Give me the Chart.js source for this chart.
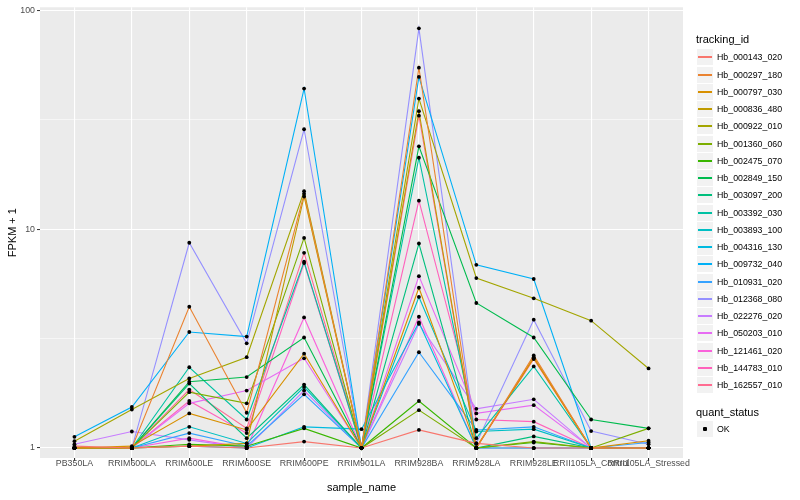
<!DOCTYPE html>
<html>
<head>
<meta charset="utf-8">
<script src="https://cdn.jsdelivr.net/npm/chart.js@4"></script>
<style>
  html, body { margin: 0; padding: 0; background: #ffffff; }
  #wrap { position: relative; width: 800px; height: 500px; font-family: "Liberation Sans", Arial, sans-serif; }
  #c { position: absolute; left: 0; top: 0; }
  .lg-title { position: absolute; left: 696px; font-size: 11px; color: #000; white-space: nowrap; line-height: 13px; }
  .lg-key { position: absolute; left: 697px; width: 16px; height: 16px; background: #f2f2f2; }
  .lg-line { position: absolute; left: 1px; width: 14px; top: 7px; height: 1.5px; }
  .lg-dot { position: absolute; left: 6px; top: 6px; width: 4px; height: 4px; background: #000; border-radius: 1px; }
  .lg-text { position: absolute; left: 717px; font-size: 8.8px; color: #000; white-space: nowrap; line-height: 10px; }
</style>
</head>
<body>
<div id="wrap">
  <canvas id="c" width="800" height="500"></canvas>
  <div id="legend"></div>
</div>
<script>
// ---------- data ----------
const categories = ["PB350LA","RRIM600LA","RRIM600LE","RRIM600SE","RRIM600PE","RRIM901LA","RRIM928BA","RRIM928LA","RRIM928LE","RRII105LA_Control","RRII105LA_Stressed"];
const trackingIds = ["Hb_000143_020","Hb_000297_180","Hb_000797_030","Hb_000836_480","Hb_000922_010","Hb_001360_060","Hb_002475_070","Hb_002849_150","Hb_003097_200","Hb_003392_030","Hb_003893_100","Hb_004316_130","Hb_009732_040","Hb_010931_020","Hb_012368_080","Hb_022276_020","Hb_050203_010","Hb_121461_020","Hb_144783_010","Hb_162557_010"];
const yTickValues = [1, 10, 100];
const yMinorValues = [3.1623, 31.623];
const statusLevels = ["OK"];

const hb_000143_020 = [1.02, 1.0, 1.02, 1.0, 1.07, 1.0, 1.21, 1.05, 1.0, 1.0, 1.0];
const hb_000297_180 = [1.0, 1.0, 4.42, 1.45, 14.5, 1.0, 54.7, 1.0, 2.65, 1.0, 1.0];
const hb_000797_030 = [1.0, 1.02, 1.44, 1.21, 2.7, 1.0, 5.4, 1.01, 2.57, 1.0, 1.08];
const hb_000836_480 = [1.0, 1.0, 1.02, 1.05, 14.1, 1.0, 34.6, 1.0, 2.6, 1.0, 1.0];
const hb_000922_010 = [1.075, 1.5, 2.08, 2.6, 14.9, 1.0, 39.5, 5.98, 4.83, 3.82, 2.31];
const hb_001360_060 = [1.0, 1.0, 1.8, 1.6, 9.12, 1.0, 1.49, 1.0, 1.07, 1.0, 1.23];
const hb_002475_070 = [1.0, 1.0, 1.04, 1.02, 1.23, 1.0, 1.64, 1.0, 1.06, 1.0, 1.0];
const hb_002849_150 = [1.0, 1.0, 2.01, 2.11, 3.2, 1.0, 23.9, 4.6, 3.2, 1.35, 1.23];
const hb_003097_200 = [1.0, 1.0, 1.97, 1.11, 1.95, 1.0, 8.6, 1.0, 1.13, 1.0, 1.0];
const hb_003392_030 = [1.0, 1.0, 2.34, 1.35, 7.1, 1.0, 21.2, 1.11, 2.36, 1.0, 1.0];
const hb_003893_100 = [1.0, 1.0, 1.25, 1.05, 1.9, 1.0, 4.9, 1.19, 1.22, 1.0, 1.0];
const hb_004316_130 = [1.0, 1.0, 1.02, 1.0, 1.25, 1.22, 3.75, 1.0, 1.0, 1.0, 1.0];
const hb_009732_040 = [1.125, 1.54, 3.39, 3.23, 43.9, 1.0, 49.6, 6.87, 5.92, 1.0, 1.0];
const hb_010931_020 = [1.0, 1.0, 1.17, 1.02, 1.76, 1.0, 2.74, 1.21, 1.25, 1.0, 1.06];
const hb_012368_080 = [1.0, 1.0, 8.67, 3.01, 28.6, 1.0, 82.7, 1.05, 3.86, 1.195, 1.04];
const hb_022276_020 = [1.04, 1.19, 1.09, 1.0, 1.83, 1.0, 3.69, 1.51, 1.67, 1.0, 1.0];
const hb_050203_010 = [1.0, 1.0, 1.6, 1.83, 2.57, 1.0, 6.1, 1.44, 1.57, 1.0, 1.0];
const hb_121461_020 = [1.0, 1.0, 1.11, 1.0, 3.95, 1.0, 3.98, 1.0, 1.0, 1.0, 1.0];
const hb_144783_010 = [1.0, 1.0, 1.64, 1.17, 7.0, 1.0, 13.5, 1.35, 1.32, 1.0, 1.0];
const hb_162557_010 = [1.0, 1.0, 1.85, 1.23, 7.8, 1.0, 33.0, 1.0, 2.55, 1.0, 1.0];

const seriesValues = [hb_000143_020, hb_000297_180, hb_000797_030, hb_000836_480, hb_000922_010, hb_001360_060, hb_002475_070, hb_002849_150, hb_003097_200, hb_003392_030, hb_003893_100, hb_004316_130, hb_009732_040, hb_010931_020, hb_012368_080, hb_022276_020, hb_050203_010, hb_121461_020, hb_144783_010, hb_162557_010];

// ---------- styles ----------
const palette = ["#F8766D","#EA8331","#D89000","#C09B00","#A3A500","#7CAE00","#39B600","#00BB4E","#00BF7D","#00C1A3","#00BFC4","#00BAE0","#00B0F6","#35A2FF","#9590FF","#C77CFF","#E76BF3","#FA62DB","#FF62BC","#FF6C91"];
const FONT = '"Liberation Sans", Arial, sans-serif';

const toPoints = vals => vals.map((v, i) => ({x: i, y: v}));

const datasets = [];
seriesValues.forEach((vals, k) => {
  datasets.push({
    label: trackingIds[k],
    data: toPoints(vals),
    borderColor: palette[k],
    backgroundColor: palette[k],
    borderWidth: 1.1,
    pointRadius: 0,
    pointHoverRadius: 0,
    tension: 0,
    fill: false,
    order: 2
  });
});
seriesValues.forEach((vals, k) => {
  datasets.push({
    label: trackingIds[k] + " " + statusLevels[0],
    data: toPoints(vals),
    showLine: false,
    pointRadius: 1.9,
    pointBackgroundColor: "#000000",
    pointBorderWidth: 0,
    pointStyle: "circle",
    order: 1
  });
});

const panelBg = {
  id: "panelBg",
  beforeDraw(chart) {
    const a = chart.chartArea, ctx = chart.ctx;
    ctx.save();
    ctx.fillStyle = "#EBEBEB";
    ctx.fillRect(a.left, a.top, a.right - a.left, a.bottom - a.top);
    ctx.restore();
  }
};

const isMajorY = v => yTickValues.some(t => Math.abs(t - v) < 1e-6);

new Chart(document.getElementById("c"), {
  type: "line",
  data: { datasets },
  plugins: [panelBg],
  options: {
    responsive: false,
    animation: false,
    events: [],
    layout: { padding: { left: 0, top: 4, right: 117, bottom: 0 } },
    plugins: { legend: { display: false }, tooltip: { enabled: false } },
    scales: {
      x: {
        type: "linear",
        bounds: "data",
        min: -0.6,
        max: categories.length - 1 + 0.6,
        afterBuildTicks(scale) { scale.ticks = categories.map((c, i) => ({ value: i })); },
        afterFit(scale) { scale.height = 42; },
        ticks: {
          autoSkip: false, maxRotation: 0, minRotation: 0, padding: -2.5,
          color: "#4D4D4D", font: { family: FONT, size: 8.8 },
          callback: v => categories[v]
        },
        grid: { color: "#FFFFFF", lineWidth: 1.1, drawTicks: true, tickLength: 3, tickColor: "#333333" },
        border: { display: false },
        title: { display: true, text: "sample_name", color: "#000000", font: { family: FONT, size: 11 }, padding: { top: 0, bottom: 5.5 } }
      },
      y: {
        type: "logarithmic",
        bounds: "data",
        min: 0.9006,
        max: 103.2,
        afterBuildTicks(scale) {
          scale.ticks = yTickValues.concat(yMinorValues).sort((a, b) => a - b).map(v => ({ value: v }));
        },
        afterFit(scale) { scale.width = 40; },
        ticks: {
          autoSkip: false, padding: 2,
          color: "#4D4D4D", font: { family: FONT, size: 8.8 },
          callback: v => (isMajorY(v) ? String(v) : "")
        },
        grid: {
          color: "#FFFFFF",
          lineWidth: ctx => (ctx.tick && isMajorY(ctx.tick.value) ? 1.1 : 0.55),
          drawTicks: true, tickLength: 3,
          tickColor: ctx => (ctx.tick && isMajorY(ctx.tick.value) ? "#333333" : "rgba(0,0,0,0)"),
          tickWidth: 1
        },
        border: { display: false },
        title: { display: true, text: "FPKM + 1", color: "#000000", font: { family: FONT, size: 11 }, padding: { top: 6, bottom: 0 } }
      }
    }
  }
});

// ---------- legend (HTML) ----------
(function buildLegend() {
  const lg = document.getElementById("legend");
  let html = '<div class="lg-title" style="top:33px">tracking_id</div>';
  trackingIds.forEach((id, k) => {
    const cy = Math.round(57.3 + k * 17.25);
    html += '<div class="lg-key" style="top:' + (cy - 8) + 'px"><div class="lg-line" style="background:' + palette[k] + '"></div></div>';
    html += '<div class="lg-text" style="top:' + (cy - 5) + 'px">' + id + '</div>';
  });
  html += '<div class="lg-title" style="top:406px">quant_status</div>';
  statusLevels.forEach((s, k) => {
    const cy = Math.round(429 + k * 17.25);
    html += '<div class="lg-key" style="top:' + (cy - 8) + 'px"><div class="lg-dot"></div></div>';
    html += '<div class="lg-text" style="top:' + (cy - 5) + 'px">' + s + '</div>';
  });
  lg.innerHTML = html;
})();
</script>
</body>
</html>
